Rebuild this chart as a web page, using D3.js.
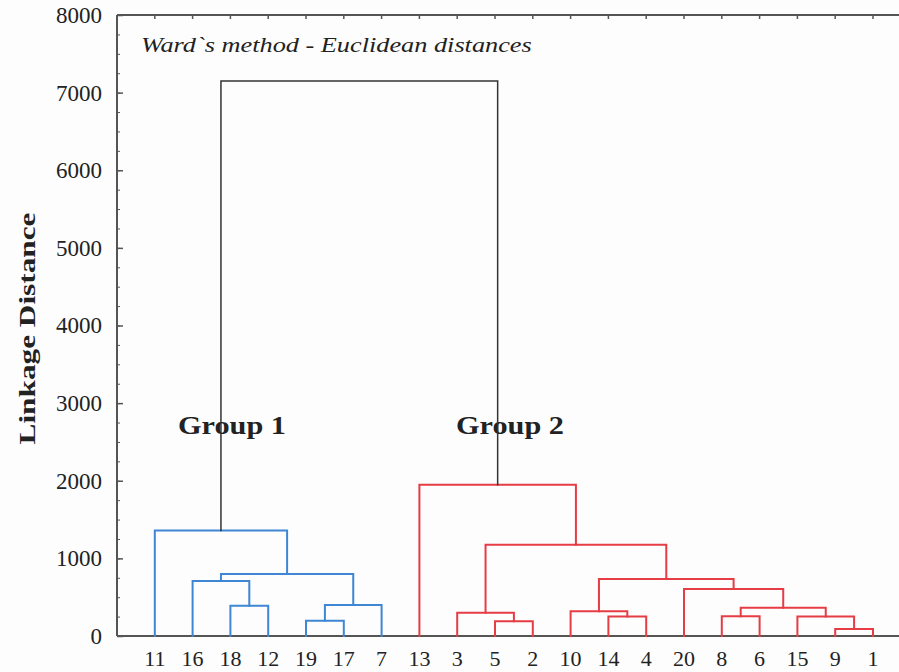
<!DOCTYPE html>
<html>
<head>
<meta charset="utf-8">
<script src="https://cdn.jsdelivr.net/npm/d3@7"></script>
<style>
  body { margin: 0; background: #fdfdfd; }
  svg { display: block; }
  text { font-family: "Liberation Serif", "Times New Roman", serif; fill: #222; }
</style>
</head>
<body>
<div id="chart"></div>
<script>
// Leaf order along the x axis
const leaves = ["11","16","18","12","19","17","7","13","3","5","2","10","14","4","20","8","6","15","9","1"];

// Merges: [left child, right child, linkage distance]; children are leaves or "m<index>"
const merges = [
  ["19", "17", 195],   // m0
  ["m0", "7", 400],    // m1
  ["18", "12", 390],   // m2
  ["16", "m2", 710],   // m3
  ["m3", "m1", 800],   // m4
  ["11", "m4", 1360],  // m5  (Group 1)
  ["5", "2", 190],     // m6
  ["3", "m6", 300],    // m7
  ["14", "4", 250],    // m8
  ["10", "m8", 320],   // m9
  ["9", "1", 90],      // m10
  ["15", "m10", 250],  // m11
  ["8", "6", 255],     // m12
  ["m12", "m11", 365], // m13
  ["20", "m13", 605],  // m14
  ["m9", "m14", 735],  // m15
  ["m7", "m15", 1175], // m16
  ["13", "m16", 1950], // m17 (Group 2)
  ["m5", "m17", 7150]  // m18 root
];

const groupNames = ["Group 1", "Group 2"];
const groupRoots = ["m5", "m17"];
const groupColors = ["#3f86d4", "#e63c44"];
const groupLabelValue = 2730;   // height of the group labels

const yTicks = [0, 1000, 2000, 3000, 4000, 5000, 6000, 7000, 8000];
const titleText = "Ward`s method - Euclidean distances";
const yTitle = "Linkage Distance";

const W = 899, H = 672;
const svg = d3.select("#chart").append("svg")
    .attr("width", W)
    .attr("height", H);

const x = d3.scaleLinear().domain([-1, leaves.length - 1]).range([117, 873]);
const y = d3.scaleLinear().domain([0, 8000]).range([636, 15]);

// stretch a text horizontally to a given width (the source picture is widened)
function stretch(sel, x0, y0, target, rot) {
  const w = sel.node().getComputedTextLength();
  const k = target / w;
  sel.attr("transform", rot
    ? `translate(${x0},${y0}) rotate(-90) scale(${k},1)`
    : `translate(${x0},${y0}) scale(${k},1)`);
}

// Compute positions of every node
const pos = {};
leaves.forEach((l, i) => { pos[l] = { x: x(i), h: 0 }; });
merges.forEach((m, i) => {
  const a = pos[m[0]], b = pos[m[1]];
  pos["m" + i] = { x: (a.x + b.x) / 2, h: m[2], kids: [m[0], m[1]] };
});

// Colour for each merge: inherited from the group it belongs to
const colorOf = {};
function paint(id, color) {
  colorOf[id] = color;
  const p = pos[id];
  if (p.kids) p.kids.forEach(k => paint(k, color));
}
groupRoots.forEach((r, i) => paint(r, groupColors[i]));

// Left axis (major + minor ticks pointing inward)
svg.append("g")
    .attr("transform", "translate(117,0)")
    .call(d3.axisLeft(y).tickValues(d3.range(0, 8001, 250)).tickSize(-3).tickFormat(""))
    .call(g => g.select(".domain").remove())
    .call(g => g.selectAll("line").attr("stroke", "#555"));

svg.append("g")
    .attr("transform", "translate(117,0)")
    .call(d3.axisLeft(y).tickValues(yTicks).tickSize(-6).tickPadding(15).tickFormat(d3.format("d")))
    .call(g => g.select(".domain").remove())
    .call(g => g.selectAll("line").attr("stroke", "#555").attr("stroke-width", 1.5))
    .call(g => g.selectAll("text")
        .style("font-size", "23px")
        .attr("fill", "#222"));

// Frame lines: left, top and bottom
svg.append("line").attr("x1", 117).attr("x2", 117).attr("y1", y(8000)).attr("y2", y(0))
    .attr("stroke", "#555").attr("stroke-width", 2);
svg.append("line").attr("x1", 117).attr("x2", W).attr("y1", y(8000)).attr("y2", y(8000))
    .attr("stroke", "#555").attr("stroke-width", 2);
svg.append("line").attr("x1", 117).attr("x2", W).attr("y1", y(0)).attr("y2", y(0))
    .attr("stroke", "#555").attr("stroke-width", 2);

// Top ticks at leaf positions
svg.append("g").selectAll("line")
  .data(leaves)
  .join("line")
    .attr("x1", (d, i) => x(i)).attr("x2", (d, i) => x(i))
    .attr("y1", y(8000)).attr("y2", y(8000) + 4)
    .attr("stroke", "#555").attr("stroke-width", 1.5);

// Leaf labels
svg.append("g").selectAll("text")
  .data(leaves)
  .join("text")
    .attr("x", (d, i) => x(i))
    .attr("y", 666)
    .attr("text-anchor", "middle")
    .style("font-size", "22px")
    .text(d => d);

// Group labels (drawn before links so the root lines overlay them)
svg.append("g").selectAll("text")
  .data(groupNames)
  .join("text")
    .style("font-size", "25px")
    .style("font-weight", "bold")
    .text(d => d)
    .each(function(d, i) {
      stretch(d3.select(this), i === 0 ? 178 : 456, y(groupLabelValue) + 10, 108);
    });

// Links
const links = svg.append("g").attr("fill", "none").attr("stroke-linecap", "square");
merges.forEach((m, i) => {
  const id = "m" + i;
  const p = pos[id];
  const color = colorOf[id] || "#333";
  const width = colorOf[id] ? 2 : 1.5;
  const a = pos[m[0]], b = pos[m[1]];
  const path = d3.path();
  path.moveTo(a.x, y(a.h));
  path.lineTo(a.x, y(p.h));
  path.lineTo(b.x, y(p.h));
  path.lineTo(b.x, y(b.h));
  links.append("path")
      .attr("d", path.toString())
      .attr("stroke", color)
      .attr("stroke-width", width);
});

// Chart title inside the plot
const title = svg.append("text")
    .style("font-size", "21px")
    .style("font-style", "italic")
    .text(titleText);
stretch(title, 141, 52, 391);

// Y axis title
const yt = svg.append("text")
    .attr("text-anchor", "middle")
    .style("font-size", "24px")
    .style("font-weight", "bold")
    .text(yTitle);
stretch(yt, 35, (y(0) + y(8000)) / 2 + 3, 232, true);
</script>
</body>
</html>
